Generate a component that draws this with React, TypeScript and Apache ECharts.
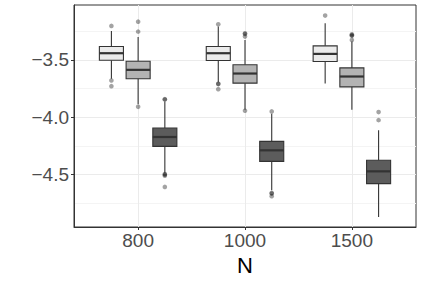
import React, { useEffect, useRef } from 'react';
import * as echarts from 'echarts';

const categories = ['800', '1000', '1500'];
const yMajorTicks = [-4.5, -4.0, -3.5];
const yMinorTicks = [-4.75, -4.25, -3.75, -3.25];

// [low whisker, q1, median, q3, high whisker] per category
const statsLight = [
  [-3.665, -3.503, -3.442, -3.384, -3.248],
  [-3.694, -3.506, -3.442, -3.384, -3.21],
  [-3.706, -3.514, -3.448, -3.378, -3.181],
];
const statsMid = [
  [-3.886, -3.665, -3.587, -3.512, -3.3],
  [-3.935, -3.703, -3.619, -3.543, -3.326],
  [-3.935, -3.735, -3.645, -3.57, -3.341],
];
const statsDark = [
  [-4.486, -4.254, -4.172, -4.094, -3.862],
  [-4.636, -4.384, -4.288, -4.21, -3.97],
  [-4.868, -4.578, -4.471, -4.375, -4.114],
];

const outliersLight = [
  [-3.204, -3.68, -3.729],
  [-3.19, -3.709, -3.711, -3.755],
  [-3.114],
];
const outliersMid = [
  [-3.167, -3.254, -3.909],
  [-3.268, -3.275, -3.297, -3.943],
  [-3.277, -3.285, -3.29, -3.326],
];
const outliersDark = [
  [-3.842, -3.845, -4.494, -4.5, -4.509, -4.607],
  [-3.949, -4.659, -4.665, -4.688],
  [-3.955, -4.025],
];

const groups = [
  { name: 'light', stats: statsLight, outliers: outliersLight, fill: '#ebebeb', offset: -0.25 },
  { name: 'mid', stats: statsMid, outliers: outliersMid, fill: '#b3b3b3', offset: 0 },
  { name: 'dark', stats: statsDark, outliers: outliersDark, fill: '#5c5c5c', offset: 0.25 },
];

const BOX_W = 0.225;
const FONT = '"Liberation Sans", Arial, Helvetica, sans-serif';
const fmt = (v: number) => (v < 0 ? '\u2212' : '') + Math.abs(v).toFixed(1);

function makeRender(offset: number, fill: string) {
  return (params: any, api: any) => {
    const xc = api.value(0) + offset;
    const low = api.value(1);
    const q1 = api.value(2);
    const med = api.value(3);
    const q3 = api.value(4);
    const high = api.value(5);
    const lt = api.coord([xc - BOX_W / 2, q3]);
    const rb = api.coord([xc + BOX_W / 2, q1]);
    const pm = api.coord([xc, med]);
    const ph = api.coord([xc, high]);
    const pl = api.coord([xc, low]);
    const stroke = '#333333';
    return {
      type: 'group',
      children: [
        { type: 'line', shape: { x1: ph[0], y1: ph[1], x2: ph[0], y2: lt[1] }, style: { stroke, lineWidth: 1.1 } },
        { type: 'line', shape: { x1: pl[0], y1: pl[1], x2: pl[0], y2: rb[1] }, style: { stroke, lineWidth: 1.1 } },
        {
          type: 'rect',
          shape: { x: lt[0], y: lt[1], width: rb[0] - lt[0], height: rb[1] - lt[1] },
          style: { fill, stroke, lineWidth: 1.1 },
        },
        { type: 'line', shape: { x1: lt[0], y1: pm[1], x2: rb[0], y2: pm[1] }, style: { stroke, lineWidth: 2.2 } },
      ],
    };
  };
}

export default function App() {
  const ref = useRef<HTMLDivElement>(null);
  useEffect(() => {
    if (!ref.current) return;
    const chart = echarts.init(ref.current, undefined, { renderer: 'svg' });
    const series: any[] = [];
    groups.forEach((g) => {
      series.push({
        type: 'scatter',
        name: g.name + '-out',
        xAxisIndex: 0,
        yAxisIndex: 0,
        symbol: 'circle',
        symbolSize: 4.6,
        itemStyle: { color: 'rgba(0,0,0,0.45)' },
        silent: true,
        z: 2,
        data: g.outliers.flatMap((vals, ci) => vals.map((v) => [ci + 1 + g.offset, v])),
      });
      series.push({
        type: 'custom',
        name: g.name,
        xAxisIndex: 0,
        yAxisIndex: 0,
        renderItem: makeRender(g.offset, g.fill),
        encode: { x: 0, y: [1, 2, 3, 4, 5] },
        z: 3,
        data: g.stats.map((s, ci) => [ci + 1, ...s]),
      });
    });
    chart.setOption({
      animation: false,
      backgroundColor: '#ffffff',
      grid: {
        left: 74,
        right: 6,
        top: 5,
        bottom: 55,
        show: true,
        borderColor: '#333333',
        borderWidth: 1,
        backgroundColor: 'transparent',
        outerBoundsMode: 'none',
      },
      xAxis: {
        type: 'value',
        min: 0.4,
        max: 3.6,
        name: 'N',
        nameLocation: 'middle',
        nameGap: 24,
        nameTextStyle: { fontFamily: FONT, fontSize: 22, color: '#000000' },
        axisLine: { show: true, lineStyle: { color: '#333333', width: 1 } },
        axisTick: { show: true, length: 3, customValues: [1, 2, 3], lineStyle: { color: '#333333' } },
        axisLabel: {
          customValues: [1, 2, 3],
          formatter: (v: number) => categories[Math.round(v) - 1],
          fontFamily: FONT,
          fontSize: 19,
          color: '#4d4d4d',
          margin: 4,
        },
        splitLine: { show: true, lineStyle: { color: '#ebebeb', width: 1 } },
      },
      yAxis: [
        {
          type: 'value',
          min: -4.956,
          max: -3.022,
          axisLine: { show: true, lineStyle: { color: '#333333', width: 1 } },
          axisTick: { show: true, length: 3, customValues: yMajorTicks, lineStyle: { color: '#333333' } },
          axisLabel: {
            customValues: yMajorTicks,
            formatter: fmt,
            fontFamily: FONT,
            fontSize: 19,
            color: '#4d4d4d',
            margin: 5,
          },
          splitLine: { show: true, lineStyle: { color: '#ebebeb', width: 1 } },
        },
        {
          type: 'value',
          min: -4.956,
          max: -3.022,
          position: 'left',
          axisLine: { show: false },
          axisTick: { show: false, customValues: yMinorTicks },
          axisLabel: { show: false, customValues: yMinorTicks },
          splitLine: { show: true, lineStyle: { color: '#f4f4f4', width: 1 } },
        },
      ],
      series,
    });
    return () => chart.dispose();
  }, []);
  return <div ref={ref} style={{ position: 'fixed', left: 0, top: 0, width: 422, height: 282 }} />;
}
